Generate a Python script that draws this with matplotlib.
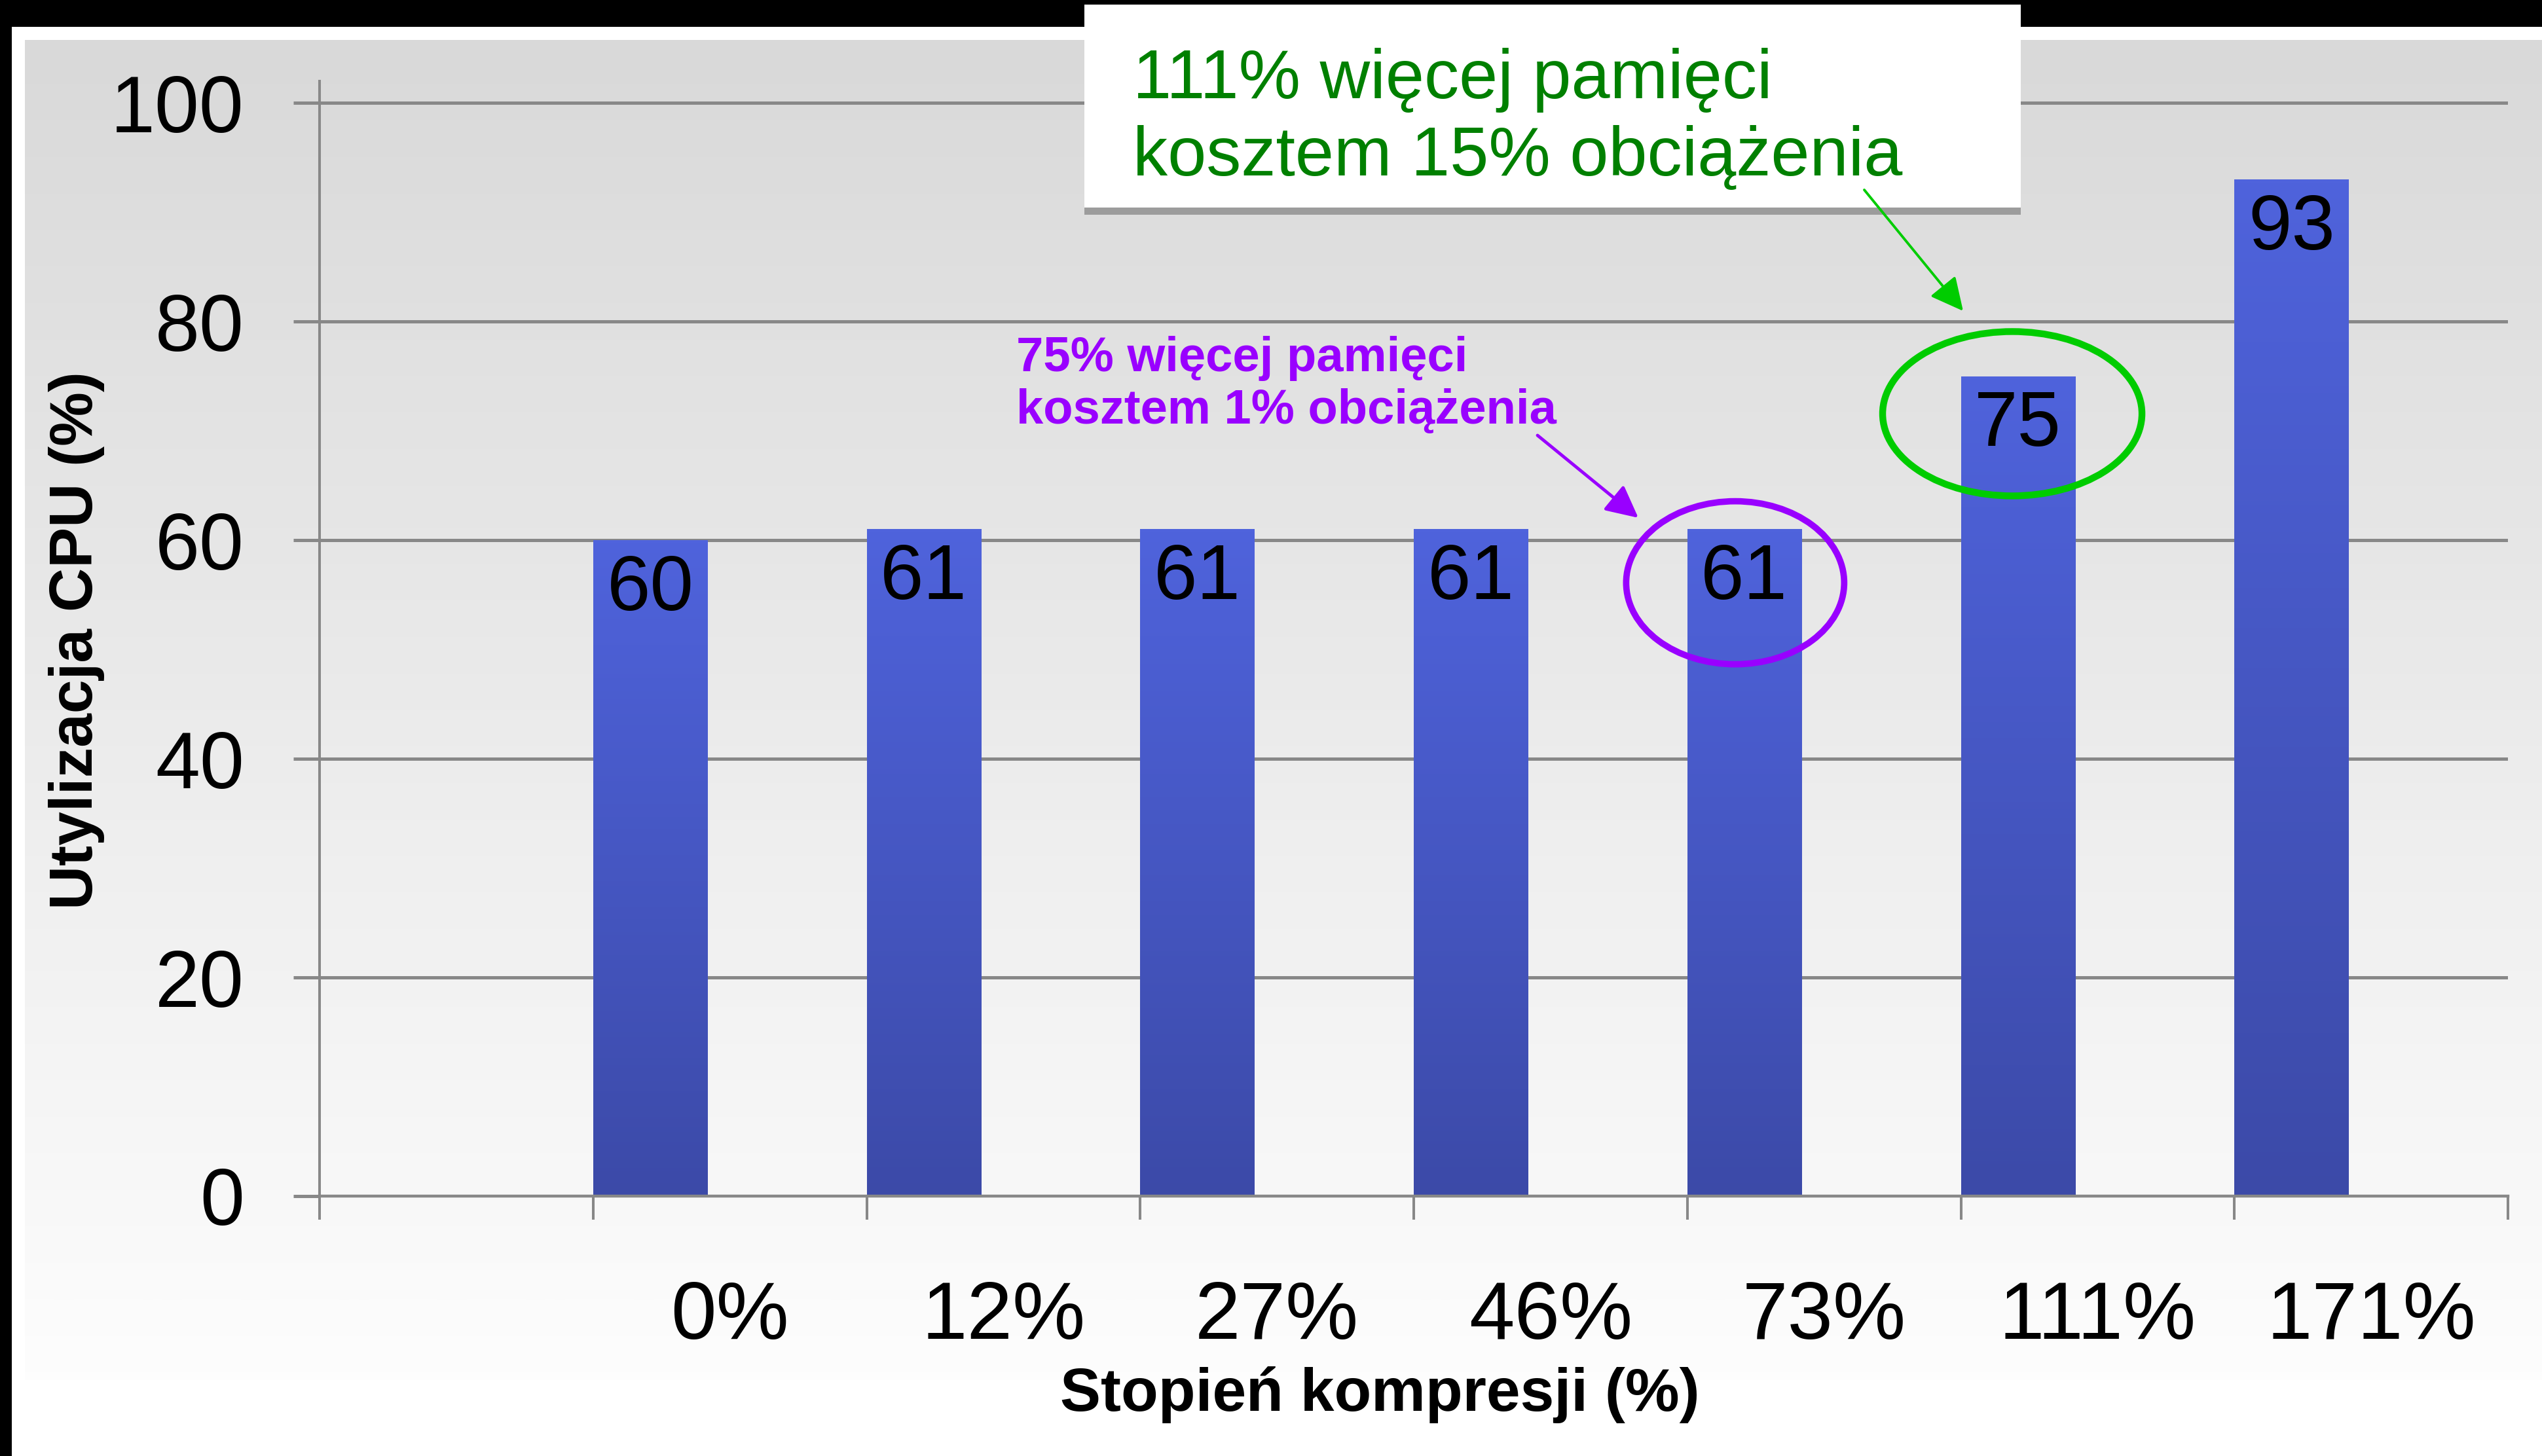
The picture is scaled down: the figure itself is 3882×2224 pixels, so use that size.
import matplotlib
matplotlib.use("Agg")
import matplotlib.pyplot as plt
import numpy as np
from matplotlib.colors import LinearSegmentedColormap
from matplotlib.patches import Ellipse, Rectangle

W, H, DPI = 3882, 2224, 100

# ── data ──────────────────────────────────────────────────────────────────────
compression = ["0%", "12%", "27%", "46%", "73%", "111%", "171%"]
cpu_util = [60, 61, 61, 61, 61, 75, 93]
y_ticks = [0, 20, 40, 60, 80, 100]

note_green = ["111% więcej pamięci", "kosztem 15% obciążenia"]
note_purple = ["75% więcej pamięci", "kosztem 1% obciążenia"]

GRID = "#888888"
GREEN_TXT = "#008000"
GREEN = "#00cc00"
PURPLE = "#9900ff"

plt.rcParams["font.family"] = ["Liberation Sans", "DejaVu Sans"]

fig = plt.figure(figsize=(W / DPI, H / DPI), dpi=DPI)
fig.patch.set_facecolor("white")

# ── slide background: black frame, white margin, grey gradient panel ─────────
bg = fig.add_axes([0, 0, 1, 1], zorder=0)
bg.axis("off")
bg.add_patch(Rectangle((0, 0), W, 41, color="black", lw=0))
bg.add_patch(Rectangle((0, 0), 18, H, color="black", lw=0))
panel_cmap = LinearSegmentedColormap.from_list("panel", ["#d9d9d9", "#fdfdfd"])
bg.imshow(np.linspace(0, 1, 256).reshape(-1, 1), cmap=panel_cmap,
          extent=[38, W, 2108, 61], aspect="auto", interpolation="bilinear")
bg.set_xlim(0, W)
bg.set_ylim(H, 0)

# ── bar chart ─────────────────────────────────────────────────────────────────
px_per_unit = (1827 - 157) / 100
y_top = 102
ax = fig.add_axes([488 / W, 1 - 1827 / H, (3830 - 488) / W, y_top * px_per_unit / H], zorder=1)
ax.patch.set_visible(False)

slot = np.arange(1, len(cpu_util) + 1)
bar_w = 0.417
bars = ax.bar(slot, cpu_util, width=bar_w, align="edge", color="#4757c6", lw=0, zorder=2)

bar_cmap = LinearSegmentedColormap.from_list("bar", ["#3c4aa8", "#4f63dc"])
grad = np.linspace(0, 1, 256).reshape(-1, 1)
for b in bars:
    im = ax.imshow(grad, cmap=bar_cmap, origin="lower", aspect="auto", zorder=2.1,
                   extent=[b.get_x(), b.get_x() + b.get_width(), 0, b.get_height()])
    im.set_clip_path(b)

for x, v in zip(slot, cpu_util):
    ax.text(x + bar_w / 2, v - 6.4, str(v), ha="center", va="baseline",
            fontsize=86, color="black", zorder=3)

ax.set_xlim(0, len(cpu_util) + 1)
ax.set_ylim(0, y_top)
ax.set_yticks(y_ticks)
ax.set_yticklabels([str(t) for t in y_ticks], fontsize=88)
ax.yaxis.grid(True, color=GRID, lw=3.6)
ax.set_axisbelow(True)
ax.tick_params(axis="y", length=28.8, width=3.6, color=GRID, pad=54)

ax.set_xticks(np.arange(0, len(cpu_util) + 2))
ax.set_xticklabels([])
ax.set_xticks(slot + 0.5, compression, minor=True)
ax.tick_params(axis="x", which="major", length=26, width=2.9, color=GRID)
ax.tick_params(axis="x", which="minor", length=0, pad=92, labelsize=90)

for side in ("top", "right"):
    ax.spines[side].set_visible(False)
ax.spines["left"].set_color(GRID)
ax.spines["left"].set_linewidth(2.9)
ax.spines["bottom"].set_color(GRID)
ax.spines["bottom"].set_linewidth(3.2)

ax.set_xlabel("Stopień kompresji (%)", fontsize=67, fontweight="bold")
ax.xaxis.set_label_coords(0.4844, -0.1526)
ax.set_ylabel("Utylizacja CPU (%)", fontsize=67, fontweight="bold")
ax.yaxis.set_label_coords(-0.0981, 0.4984)

# highlight rings around the 73% and 111% bars
ax.add_patch(Ellipse((5.175, 56.1), 0.797, 14.91, fill=False, ec=PURPLE, lw=7,
                     zorder=4, clip_on=False))
ax.add_patch(Ellipse((6.188, 71.56), 0.948, 15.03, fill=False, ec=GREEN, lw=7.5,
                     zorder=4, clip_on=False))

# ── callouts ──────────────────────────────────────────────────────────────────
ov = fig.add_axes([0, 0, 1, 1], zorder=2)
ov.axis("off")
ov.set_xlim(0, W)
ov.set_ylim(H, 0)

ov.add_patch(Rectangle((1656, 317), 1430, 11, color="#9c9c9c", lw=0))
ov.add_patch(Rectangle((1656, 7), 1430, 310, color="white", lw=0))
for i, line in enumerate(note_green):
    ov.text(1730, 150 + 118 * i, line, fontsize=76.5, color=GREEN_TXT, va="baseline")
for i, line in enumerate(note_purple):
    ov.text(1552, 567 + 80 * i, line, fontsize=53.5, fontweight="bold", color=PURPLE,
            va="baseline")

ov.annotate("", xy=(2998, 475), xytext=(2847, 290),
            arrowprops=dict(arrowstyle="-|>", color=GREEN, lw=2.8, mutation_scale=77,
                            shrinkA=0, shrinkB=0))
ov.annotate("", xy=(2502, 791), xytext=(2348, 665),
            arrowprops=dict(arrowstyle="-|>", color=PURPLE, lw=3.5, mutation_scale=75,
                            shrinkA=0, shrinkB=0))

fig.savefig("out.png", dpi=DPI)
